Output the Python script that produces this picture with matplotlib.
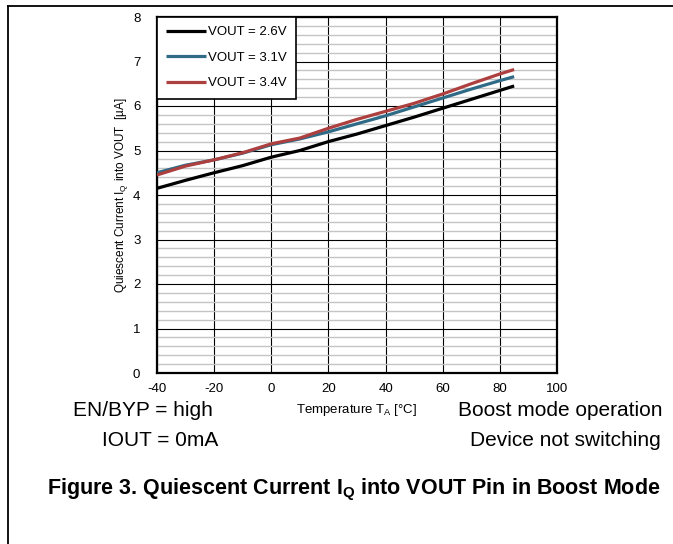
import matplotlib.pyplot as plt
from matplotlib.lines import Line2D
from matplotlib.ticker import MultipleLocator

plt.rcParams['font.family'] = ['Liberation Sans', 'DejaVu Sans']
plt.rcParams['mathtext.fontset'] = 'custom'
plt.rcParams['mathtext.rm'] = 'Liberation Sans'
plt.rcParams['mathtext.bf'] = 'Liberation Sans:bold'
plt.rcParams['axes.unicode_minus'] = False

# Data
temp = [-40, -30, -20, -10, 0, 10, 20, 30, 40, 50, 60, 70, 80, 85]
iq_26 = [4.15, 4.33, 4.50, 4.66, 4.85, 5.00, 5.20, 5.37, 5.56, 5.75, 5.95, 6.15, 6.35, 6.45]
iq_31 = [4.50, 4.67, 4.79, 4.94, 5.13, 5.26, 5.42, 5.60, 5.78, 5.98, 6.18, 6.38, 6.57, 6.66]
iq_34 = [4.45, 4.65, 4.79, 4.95, 5.15, 5.28, 5.50, 5.70, 5.88, 6.06, 6.27, 6.50, 6.72, 6.82]
labels = ['VOUT = 2.6V', 'VOUT = 3.1V', 'VOUT = 3.4V']
colors = ['#000000', '#2f6b86', '#ad3f3f']

fig = plt.figure(figsize=(6.73, 5.44), dpi=100)
ax = fig.add_axes([157 / 673, 1 - 373 / 544, 400 / 673, 356 / 544])

for y, lab, c in zip([iq_26, iq_31, iq_34], labels, colors):
    ax.plot(temp, y, color=c, lw=2.3, label=lab, solid_capstyle='butt', zorder=3)

ax.set_xlim(-40, 100)
ax.set_ylim(0, 8)
ax.xaxis.set_major_locator(MultipleLocator(20))
ax.yaxis.set_major_locator(MultipleLocator(1))
ax.yaxis.set_minor_locator(MultipleLocator(0.2))
ax.grid(which='major', color='black', lw=0.8)
ax.grid(which='minor', axis='y', color='#c4c4c4', lw=1.0)
ax.set_axisbelow(True)
ax.tick_params(which='both', length=0, labelsize=9.5)
ax.tick_params(axis='y', pad=12)
ax.tick_params(axis='x', pad=7)
for s in ax.spines.values():
    s.set_linewidth(1.6)

ax.set_xlabel(r'Temperature T$_\mathregular{A}$ [°C]', fontsize=9.5, labelpad=5)
ax.set_ylabel(r'Quiescent Current I$_\mathregular{Q}$ into VOUT  [µA]', fontsize=8.5, labelpad=2)

leg = ax.legend(loc='upper left', bbox_to_anchor=(0, 1), borderaxespad=0, fontsize=9.5,
                handlelength=3.0, handletextpad=0.15, labelspacing=1.0, fancybox=False,
                framealpha=1, edgecolor='black', borderpad=0.7)
leg.get_frame().set_linewidth(1.2)

# Figure border lines
fig.add_artist(Line2D([8 / 673, 1], [1 - 6 / 544, 1 - 6 / 544], color='black', lw=1.3))
fig.add_artist(Line2D([8 / 673, 8 / 673], [0, 1 - 6 / 544], color='black', lw=1.3))

# Conditions text
fig.text(143 / 673, 1 - 411 / 544, 'EN/BYP = high', fontsize=15, ha='center', va='center')
fig.text(160 / 673, 1 - 440 / 544, 'IOUT = 0mA', fontsize=15, ha='center', va='center')
fig.text(560 / 673, 1 - 411 / 544, 'Boost mode operation', fontsize=15, ha='center', va='center')
fig.text(565 / 673, 1 - 440 / 544, 'Device not switching', fontsize=15, ha='center', va='center')

fig.text(47 / 673, 1 - 490 / 544,
         r'Figure 3. Quiescent Current I$_\mathbf{Q}$ into VOUT Pin in Boost Mode',
         fontsize=15.5, fontweight='bold', ha='left', va='center')

fig.savefig('out.png', dpi=100)
